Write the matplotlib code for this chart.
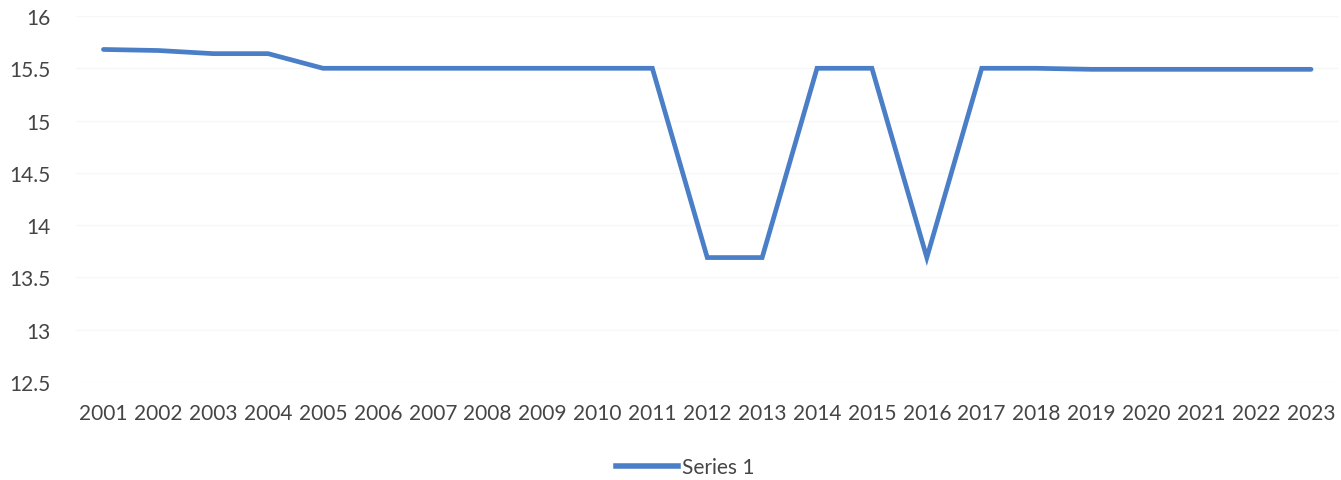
import matplotlib
matplotlib.use("Agg")
import matplotlib.pyplot as plt
from matplotlib.lines import Line2D

years = [str(y) for y in range(2001, 2024)]
series1 = [15.68, 15.67, 15.64, 15.64, 15.5, 15.5, 15.5, 15.5, 15.5, 15.5, 15.5,
           13.69, 13.69, 15.5, 15.5, 13.69, 15.5, 15.5, 15.49, 15.49, 15.49, 15.49, 15.49]
yticks = [12.5, 13, 13.5, 14, 14.5, 15, 15.5, 16]

plt.rcParams['font.family'] = ['Lato', 'DejaVu Sans']
txt = '#454545'
blue = '#4a7fc8'

fig = plt.figure(figsize=(13.41, 4.81), dpi=100)
ax = fig.add_axes([76 / 1341, 1 - 383 / 481, (1338.5 - 76) / 1341, (383 - 17) / 481])

x = list(range(len(years)))
ax.plot(x, series1, color=blue, lw=3.4, solid_capstyle='round', solid_joinstyle='miter')

ax.set_xlim(-0.5, len(years) - 0.5)
ax.set_ylim(12.5, 16)
ax.set_yticks(yticks)
ax.set_yticklabels([f'{v:g}' for v in yticks])
ax.set_xticks(x)
ax.set_xticklabels(years)
ax.grid(axis='y', color='#f7f7f7', lw=1)
ax.set_axisbelow(True)
for s in ax.spines.values():
    s.set_visible(False)
ax.tick_params(length=0, labelsize=15, colors=txt)
ax.tick_params(axis='y', pad=18)
ax.tick_params(axis='x', pad=15)

handle = Line2D([], [], color=blue, lw=4)
fig.legend([handle], ['Series 1'], loc='center', bbox_to_anchor=(685 / 1341, 1 - 468 / 481),
           frameon=False, fontsize=15, labelcolor=txt, handlelength=3.0, handletextpad=0.15)

fig.savefig('out.png', dpi=100, facecolor='white')
